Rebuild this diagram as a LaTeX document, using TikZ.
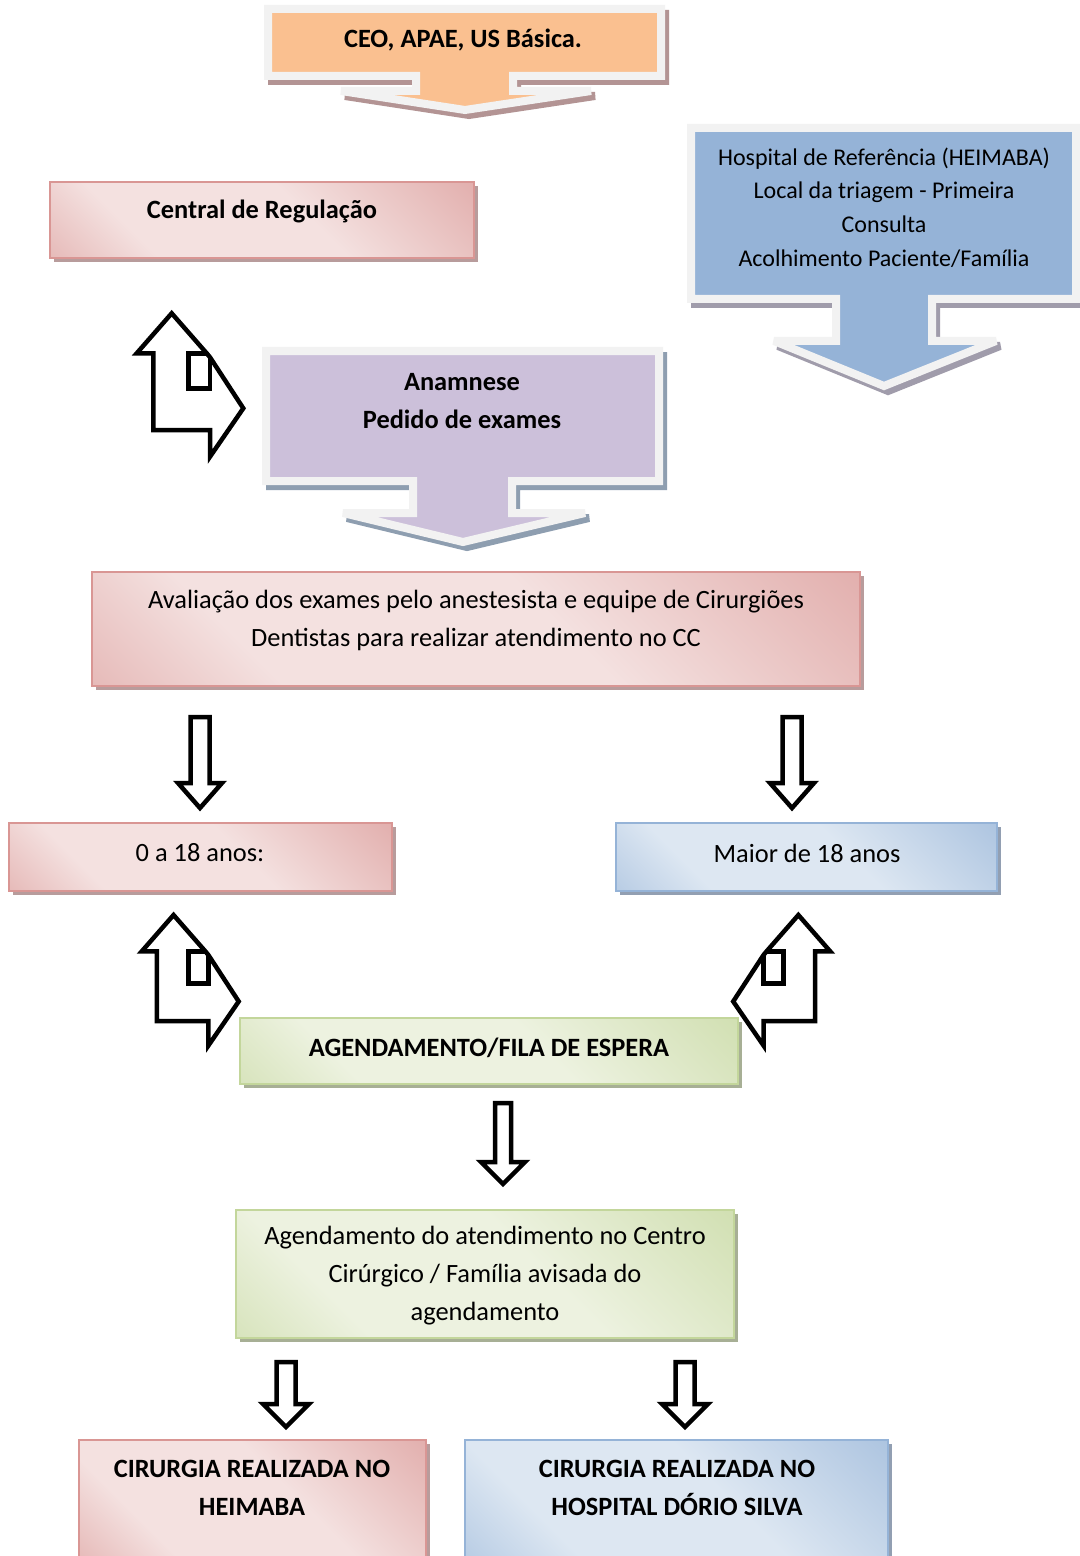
\documentclass[tikz,border=0pt]{standalone}
\usepackage{fontspec}
\setmainfont{Carlito}
\usetikzlibrary{shadows,fit}
\definecolor{pinkD}{HTML}{D99694}
\definecolor{pinkL}{HTML}{F4E1E0}
\definecolor{blueD}{HTML}{95B3D7}
\definecolor{blueL}{HTML}{DDE7F2}
\definecolor{greenD}{HTML}{C3D69B}
\definecolor{greenL}{HTML}{EDF2E0}
\definecolor{pinkS}{HTML}{B89C9C}
\definecolor{blueS}{HTML}{929FB2}
\definecolor{greenS}{HTML}{A7AF95}
\definecolor{orangeF}{HTML}{FAC090}
\definecolor{orangeS}{HTML}{B39494}
\definecolor{blueF}{HTML}{95B3D7}
\definecolor{hospS}{HTML}{A09CAB}
\definecolor{purpleF}{HTML}{CCC0DA}
\definecolor{purpleS}{HTML}{8E9EB0}
\definecolor{rimC}{HTML}{F2F2F2}
\pgfdeclarehorizontalshading{pinkgrad}{100bp}{color(0bp)=(pinkD); color(30bp)=(pinkL); color(57bp)=(pinkL); color(100bp)=(pinkD)}
\pgfdeclarehorizontalshading{bluegrad}{100bp}{color(0bp)=(blueD); color(30bp)=(blueL); color(57bp)=(blueL); color(100bp)=(blueD)}
\pgfdeclarehorizontalshading{greengrad}{100bp}{color(0bp)=(greenD); color(30bp)=(greenL); color(57bp)=(greenL); color(100bp)=(greenD)}
\tikzset{
  gbox/.style={draw=#1D, line width=0.8pt, shading=#1grad, shading angle=45, inner sep=0pt,
    drop shadow={shadow xshift=2pt, shadow yshift=-2pt, fill=#1S, opacity=1}},
  txt/.style={font=\fontsize{13.2}{19}\selectfont, align=center, inner sep=0pt},
  btxt/.style={font=\fontsize{13.2}{19}\selectfont\bfseries, align=center, inner sep=0pt},
  htxt/.style={font=\fontsize{12}{16.85}\selectfont, align=center, inner sep=0pt},
  blk/.style={draw=black, line width=2.25pt, fill=white, line join=miter},
  callout/.style={fill=#1, draw=rimC, line width=4pt, line join=miter, miter limit=1.6},
  calloutshadow/.style={fill=#1, draw=#1, line width=4pt, line join=miter, miter limit=1.6, shift={(4,5)}},
  pics/bentarr/.style={code={
    \draw[blk] (0,40) -- (35,0) -- (70,40) -- (73.3,44) -- (106.6,95) -- (73.3,143.4)
      -- (73.3,116.7) -- (16.6,116.7) -- (16.6,40) -- cycle;
    \draw[blk, fill=none] (70,40) -- (51.6,40) -- (51.6,75) -- (73.3,75) -- (73.3,44);
  }}
}
\begin{document}
\begin{tikzpicture}[x=0.5pt,y=-0.5pt]
\useasboundingbox (0,0) rectangle (1080,1556);
\clip (0,0) rectangle (1080,1556);
\fill[white] (0,0) rectangle (1080,1556);

% top callout
\path[calloutshadow=orangeS] (268,9) -- (661,9) -- (661,76) -- (513,76) -- (513,91) -- (591,91) -- (465,110) -- (341,91) -- (416,91) -- (416,76) -- (268,76) -- cycle;
\path[callout=orangeF] (268,9) -- (661,9) -- (661,76) -- (513,76) -- (513,91) -- (591,91) -- (465,110) -- (341,91) -- (416,91) -- (416,76) -- (268,76) -- cycle;
\node[btxt] (ceo) at (463,40) {CEO, APAE, US Básica.};

% hospital callout
\path[calloutshadow=hospS] (691,128) -- (1076,128) -- (1076,299) -- (932,299) -- (932,341) -- (996,341) -- (884,386) -- (774,341) -- (836,341) -- (836,299) -- (691,299) -- cycle;
\path[callout=blueF] (691,128) -- (1076,128) -- (1076,299) -- (932,299) -- (932,341) -- (996,341) -- (884,386) -- (774,341) -- (836,341) -- (836,299) -- (691,299) -- cycle;
\node[htxt] (hosp) at (884,207.5) {Hospital de Referência (HEIMABA)\\Local da triagem - Primeira\\Consulta\\Acolhimento Paciente/Família};

% anamnese callout
\path[calloutshadow=purpleS] (266,351) -- (659,351) -- (659,481) -- (512,481) -- (512,513) -- (585,513) -- (463,542) -- (343,513) -- (413,513) -- (413,481) -- (266,481) -- cycle;
\path[callout=purpleF] (266,351) -- (659,351) -- (659,481) -- (512,481) -- (512,513) -- (585,513) -- (463,542) -- (343,513) -- (413,513) -- (413,481) -- (266,481) -- cycle;
\node[btxt] (anam) at (462,401) {Anamnese\\Pedido de exames};

% central de regulacao
\node[gbox=pink, fit={(50,182) (474,258)}] (central) {};
\node[btxt] (centralT) at (262,211) {Central de Regulação};

% bent arrow 1
\pic at (136.7,313.3) {bentarr};

% avaliacao
\node[gbox=pink, fit={(92,572) (860,686)}] (aval) {};
\node[txt] (avalT) at (476,620) {Avaliação dos exames pelo anestesista e equipe de Cirurgiões\\Dentistas para realizar atendimento no CC};

% down arrows
\draw[blk] (190.5,717) -- (209.5,717) -- (209.5,783) -- (222,783) -- (200,808) -- (178,783) -- (190.5,783) -- cycle;
\draw[blk] (782.5,717) -- (801.5,717) -- (801.5,783) -- (814,783) -- (792,808) -- (770,783) -- (782.5,783) -- cycle;

% age boxes
\node[gbox=pink, fit={(9,823) (392,891)}] (young) {};
\node[txt] (youngT) at (200,853) {0 a 18 anos:};
\node[gbox=blue, fit={(616,823) (997,891)}] (adult) {};
\node[txt] (adultT) at (807,853) {Maior de 18 anos};

% bent arrows 2 and 3
\pic[scale=0.91] at (141.7,915) {bentarr};
\pic[xscale=-0.91, yscale=0.91] at (830.2,915) {bentarr};

% agendamento / fila
\node[gbox=green, fit={(240,1018) (738,1084)}] (fila) {};
\node[btxt] (filaT) at (489,1048) {AGENDAMENTO/FILA DE ESPERA};

\draw[blk] (495,1103) -- (511,1103) -- (511,1162) -- (525,1162) -- (503,1184) -- (481,1162) -- (495,1162) -- cycle;

% agendamento do atendimento
\node[gbox=green, fit={(236,1210) (734,1338)}] (agend) {};
\node[txt] (agendT) at (485,1276) {Agendamento do atendimento no Centro\\Cirúrgico / Família avisada do\\agendamento};

\draw[blk] (276.5,1362) -- (295.5,1362) -- (295.5,1404) -- (309,1404) -- (286,1427) -- (263,1404) -- (276.5,1404) -- cycle;
\draw[blk] (675.5,1362) -- (694.5,1362) -- (694.5,1404) -- (708,1404) -- (685,1427) -- (662,1404) -- (675.5,1404) -- cycle;

% cirurgia boxes
\node[gbox=pink, fit={(79,1440) (426,1560)}] (heim) {};
\node[btxt] (heimT) at (252,1488) {CIRURGIA REALIZADA NO\\HEIMABA};
\node[gbox=blue, fit={(465,1440) (888,1560)}] (hds) {};
\node[btxt] (hdsT) at (677,1488) {CIRURGIA REALIZADA NO\\HOSPITAL DÓRIO SILVA};
\end{tikzpicture}
\end{document}
